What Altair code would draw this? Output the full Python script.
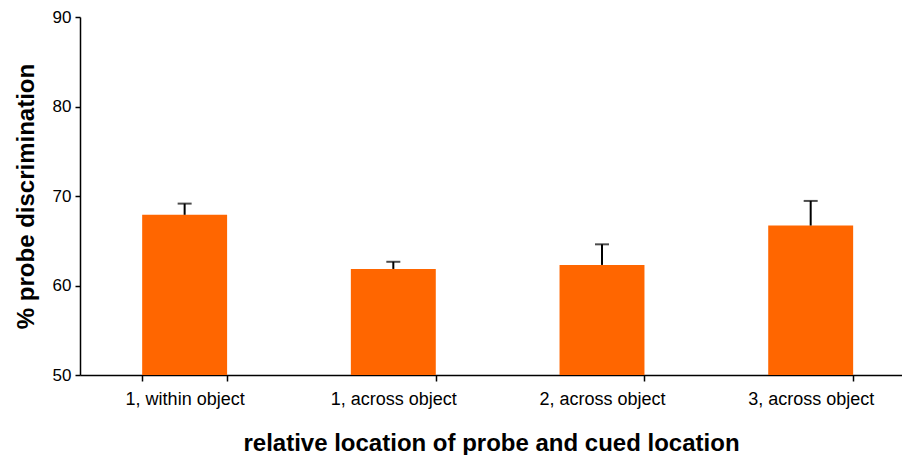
import altair as alt
import pandas as pd

categories = ["1, within object", "1, across object", "2, across object", "3, across object"]
values = [67.9, 61.85, 62.3, 66.7]
errors = [1.25, 0.8, 2.3, 2.75]

df = pd.DataFrame({"cat": categories, "val": values, "err": errors})
df["top"] = df["val"] + df["err"]

FONT = "Liberation Sans"
xenc = alt.X("cat:N", sort=categories,
             scale=alt.Scale(paddingInner=0.593, paddingOuter=0.266, align=0.56),
             axis=alt.Axis(title="relative location of probe and cued location",
                           labelAngle=0, labelFontSize=18, labelFont=FONT, labelColor="black",
                           labelPadding=9, tickBand="extent", tickSize=6, tickColor="black",
                           tickWidth=1.5, domainColor="black", domainWidth=1.5,
                           titleFontSize=24, titleFont=FONT, titleFontWeight="bold",
                           titleColor="black", titlePadding=23))

base = alt.Chart(df)
bars = base.mark_bar(color="#FF6600").encode(
    x=xenc,
    y=alt.Y("val:Q", scale=alt.Scale(domain=[50, 90], zero=False, nice=False),
            axis=alt.Axis(title="% probe discrimination", values=[50, 60, 70, 80, 90],
                          grid=False, labelFontSize=17, labelFont=FONT, labelColor="black",
                          labelPadding=4, tickSize=5, tickColor="black", tickWidth=1.5,
                          domainColor="black", domainWidth=1.5,
                          titleFontSize=24, titleFont=FONT, titleFontWeight="bold",
                          titleColor="black", titlePadding=14)),
    y2=alt.datum(50),
)
rules = base.mark_rule(color="black", strokeWidth=2).encode(
    x=alt.X("cat:N", sort=categories), y="val:Q", y2="top:Q")
caps = base.mark_tick(color="black", size=14, thickness=2, orient="horizontal").encode(
    x=alt.X("cat:N", sort=categories), y="top:Q")

chart = (bars + rules + caps).properties(
    width=822, height=358,
    autosize=alt.AutoSizeParams(type="none"),
    padding={"left": 72, "top": 9, "right": 0, "bottom": 80},
).configure_view(stroke=None)
chart.save("out.html", embed_options={"renderer": "svg", "actions": False})
